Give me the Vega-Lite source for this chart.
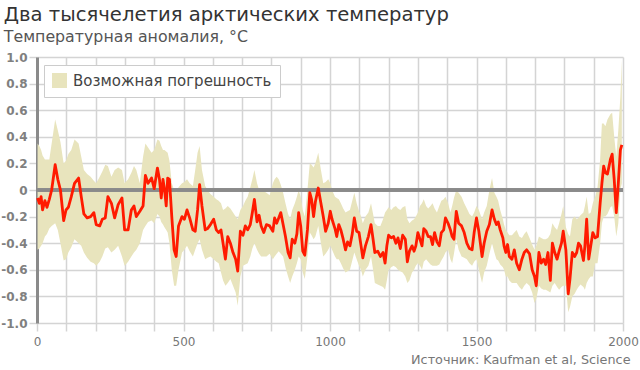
{
  "$schema": "https://vega.github.io/schema/vega-lite/v6.json",
  "autosize": {"type": "none"},
  "width": 586,
  "height": 266,
  "padding": {"left": 37, "top": 57, "right": 17, "bottom": 47},
  "background": "white",
  "title": {
    "text": "Два тысячелетия арктических температур",
    "subtitle": "Температурная аномалия, °C",
    "anchor": "start",
    "frame": "bounds",
    "dx": 3,
    "offset": 5,
    "font": "DejaVu Sans",
    "fontSize": 19.6,
    "fontWeight": "normal",
    "color": "#333333",
    "subtitleFont": "DejaVu Sans",
    "subtitleFontSize": 15.8,
    "subtitleColor": "#555555",
    "subtitlePadding": 5
  },
  "config": {
    "view": {"stroke": null},
    "font": "DejaVu Sans",
    "axisY": {"labelOverlap": false, "labelBound": false, "labelFontWeight": "bold"},
    "axisX": {"labelOverlap": false}
  },
  "data": {
    "values": [
      {"yr": 2, "t": -0.06, "hi": 0.35, "lo": -0.45},
      {"yr": 8, "t": -0.10, "hi": 0.33, "lo": -0.44},
      {"yr": 14, "t": -0.05, "hi": 0.30, "lo": -0.42},
      {"yr": 19, "t": -0.15, "hi": 0.26, "lo": -0.40},
      {"yr": 27, "t": -0.08, "hi": 0.23, "lo": -0.35},
      {"yr": 34, "t": -0.13, "hi": 0.23, "lo": -0.33},
      {"yr": 42, "t": -0.07, "hi": 0.23, "lo": -0.29},
      {"yr": 50, "t": 0.0, "hi": 0.35, "lo": -0.27},
      {"yr": 62, "t": 0.19, "hi": 0.53, "lo": -0.25},
      {"yr": 71, "t": 0.08, "hi": 0.45, "lo": -0.30},
      {"yr": 80, "t": 0.0, "hi": 0.36, "lo": -0.40},
      {"yr": 91, "t": -0.23, "hi": 0.20, "lo": -0.53},
      {"yr": 99, "t": -0.15, "hi": 0.22, "lo": -0.52},
      {"yr": 107, "t": -0.13, "hi": 0.27, "lo": -0.47},
      {"yr": 117, "t": -0.05, "hi": 0.30, "lo": -0.43},
      {"yr": 128, "t": 0.05, "hi": 0.38, "lo": -0.37},
      {"yr": 142, "t": 0.09, "hi": 0.35, "lo": -0.40},
      {"yr": 151, "t": -0.05, "hi": 0.25, "lo": -0.42},
      {"yr": 160, "t": -0.18, "hi": 0.15, "lo": -0.47},
      {"yr": 171, "t": -0.21, "hi": 0.12, "lo": -0.51},
      {"yr": 183, "t": -0.20, "hi": 0.10, "lo": -0.54},
      {"yr": 194, "t": -0.17, "hi": 0.07, "lo": -0.55},
      {"yr": 202, "t": -0.26, "hi": 0.05, "lo": -0.57},
      {"yr": 214, "t": -0.27, "hi": 0.10, "lo": -0.54},
      {"yr": 223, "t": -0.22, "hi": 0.14, "lo": -0.50},
      {"yr": 233, "t": -0.21, "hi": 0.19, "lo": -0.44},
      {"yr": 242, "t": -0.05, "hi": 0.18, "lo": -0.43},
      {"yr": 254, "t": -0.10, "hi": 0.10, "lo": -0.47},
      {"yr": 265, "t": -0.21, "hi": 0.15, "lo": -0.45},
      {"yr": 277, "t": -0.11, "hi": 0.17, "lo": -0.42},
      {"yr": 290, "t": -0.06, "hi": 0.15, "lo": -0.50},
      {"yr": 299, "t": -0.30, "hi": 0.05, "lo": -0.57},
      {"yr": 311, "t": -0.30, "hi": 0.08, "lo": -0.54},
      {"yr": 322, "t": -0.15, "hi": 0.13, "lo": -0.50},
      {"yr": 331, "t": -0.12, "hi": 0.18, "lo": -0.47},
      {"yr": 339, "t": -0.20, "hi": 0.15, "lo": -0.45},
      {"yr": 351, "t": -0.16, "hi": 0.05, "lo": -0.40},
      {"yr": 362, "t": -0.12, "hi": 0.25, "lo": -0.30},
      {"yr": 370, "t": 0.11, "hi": 0.35, "lo": -0.27},
      {"yr": 379, "t": 0.05, "hi": 0.32, "lo": -0.24},
      {"yr": 391, "t": 0.09, "hi": 0.28, "lo": -0.23},
      {"yr": 400, "t": 0.01, "hi": 0.30, "lo": -0.25},
      {"yr": 411, "t": 0.165, "hi": 0.38, "lo": -0.18},
      {"yr": 418, "t": 0.08, "hi": 0.37, "lo": -0.20},
      {"yr": 424, "t": -0.06, "hi": 0.33, "lo": -0.24},
      {"yr": 430, "t": 0.08, "hi": 0.30, "lo": -0.26},
      {"yr": 435, "t": 0.01, "hi": 0.30, "lo": -0.28},
      {"yr": 441, "t": -0.12, "hi": 0.29, "lo": -0.30},
      {"yr": 446, "t": 0.09, "hi": 0.28, "lo": -0.32},
      {"yr": 452, "t": 0.08, "hi": 0.22, "lo": -0.40},
      {"yr": 460, "t": -0.20, "hi": 0.05, "lo": -0.60},
      {"yr": 468, "t": -0.45, "hi": 0.0, "lo": -0.72},
      {"yr": 475, "t": -0.50, "hi": -0.02, "lo": -0.72},
      {"yr": 483, "t": -0.27, "hi": 0.02, "lo": -0.60},
      {"yr": 495, "t": -0.20, "hi": 0.05, "lo": -0.47},
      {"yr": 503, "t": -0.22, "hi": 0.06, "lo": -0.45},
      {"yr": 512, "t": -0.15, "hi": 0.08, "lo": -0.42},
      {"yr": 521, "t": -0.21, "hi": 0.05, "lo": -0.46},
      {"yr": 532, "t": -0.30, "hi": 0.03, "lo": -0.50},
      {"yr": 540, "t": -0.31, "hi": 0.15, "lo": -0.45},
      {"yr": 548, "t": -0.15, "hi": 0.28, "lo": -0.40},
      {"yr": 555, "t": 0.04, "hi": 0.33, "lo": -0.37},
      {"yr": 563, "t": -0.12, "hi": 0.15, "lo": -0.45},
      {"yr": 574, "t": -0.30, "hi": 0.03, "lo": -0.52},
      {"yr": 582, "t": -0.29, "hi": 0.0, "lo": -0.51},
      {"yr": 592, "t": -0.26, "hi": -0.03, "lo": -0.50},
      {"yr": 603, "t": -0.22, "hi": -0.05, "lo": -0.52},
      {"yr": 612, "t": -0.30, "hi": -0.07, "lo": -0.54},
      {"yr": 620, "t": -0.32, "hi": -0.08, "lo": -0.55},
      {"yr": 628, "t": -0.30, "hi": -0.10, "lo": -0.62},
      {"yr": 635, "t": -0.40, "hi": -0.15, "lo": -0.68},
      {"yr": 643, "t": -0.52, "hi": -0.14, "lo": -0.72},
      {"yr": 651, "t": -0.35, "hi": -0.12, "lo": -0.70},
      {"yr": 660, "t": -0.40, "hi": -0.14, "lo": -0.67},
      {"yr": 669, "t": -0.47, "hi": -0.17, "lo": -0.72},
      {"yr": 678, "t": -0.52, "hi": -0.20, "lo": -0.77},
      {"yr": 685, "t": -0.61, "hi": -0.22, "lo": -0.87},
      {"yr": 694, "t": -0.31, "hi": -0.15, "lo": -0.65},
      {"yr": 703, "t": -0.34, "hi": -0.12, "lo": -0.57},
      {"yr": 711, "t": -0.27, "hi": -0.08, "lo": -0.56},
      {"yr": 719, "t": -0.30, "hi": -0.05, "lo": -0.55},
      {"yr": 728, "t": -0.26, "hi": 0.02, "lo": -0.50},
      {"yr": 735, "t": -0.17, "hi": 0.08, "lo": -0.44},
      {"yr": 742, "t": -0.07, "hi": 0.15, "lo": -0.40},
      {"yr": 751, "t": -0.24, "hi": 0.05, "lo": -0.45},
      {"yr": 758, "t": -0.19, "hi": 0.0, "lo": -0.48},
      {"yr": 765, "t": -0.27, "hi": 0.0, "lo": -0.50},
      {"yr": 774, "t": -0.32, "hi": -0.01, "lo": -0.50},
      {"yr": 783, "t": -0.26, "hi": -0.02, "lo": -0.50},
      {"yr": 794, "t": -0.27, "hi": -0.04, "lo": -0.48},
      {"yr": 805, "t": -0.31, "hi": 0.05, "lo": -0.52},
      {"yr": 811, "t": -0.21, "hi": 0.08, "lo": -0.50},
      {"yr": 818, "t": -0.25, "hi": 0.10, "lo": -0.48},
      {"yr": 825, "t": -0.21, "hi": 0.08, "lo": -0.46},
      {"yr": 832, "t": -0.17, "hi": 0.04, "lo": -0.48},
      {"yr": 840, "t": -0.26, "hi": -0.02, "lo": -0.50},
      {"yr": 848, "t": -0.35, "hi": -0.10, "lo": -0.58},
      {"yr": 857, "t": -0.47, "hi": -0.18, "lo": -0.65},
      {"yr": 864, "t": -0.51, "hi": -0.22, "lo": -0.70},
      {"yr": 871, "t": -0.37, "hi": -0.15, "lo": -0.65},
      {"yr": 880, "t": -0.40, "hi": -0.10, "lo": -0.60},
      {"yr": 887, "t": -0.33, "hi": -0.05, "lo": -0.55},
      {"yr": 893, "t": -0.17, "hi": 0.0, "lo": -0.50},
      {"yr": 900, "t": -0.27, "hi": -0.05, "lo": -0.52},
      {"yr": 907, "t": -0.46, "hi": -0.15, "lo": -0.62},
      {"yr": 914, "t": -0.49, "hi": -0.20, "lo": -0.67},
      {"yr": 923, "t": -0.30, "hi": 0.0, "lo": -0.50},
      {"yr": 931, "t": -0.02, "hi": 0.20, "lo": -0.32},
      {"yr": 937, "t": -0.07, "hi": 0.19, "lo": -0.34},
      {"yr": 944, "t": -0.20, "hi": 0.17, "lo": -0.37},
      {"yr": 950, "t": -0.09, "hi": 0.20, "lo": -0.35},
      {"yr": 960, "t": 0.015, "hi": 0.28, "lo": -0.27},
      {"yr": 969, "t": -0.10, "hi": 0.15, "lo": -0.40},
      {"yr": 977, "t": -0.20, "hi": 0.05, "lo": -0.50},
      {"yr": 985, "t": -0.31, "hi": 0.06, "lo": -0.48},
      {"yr": 994, "t": -0.25, "hi": 0.08, "lo": -0.45},
      {"yr": 1001, "t": -0.16, "hi": 0.05, "lo": -0.42},
      {"yr": 1007, "t": -0.22, "hi": 0.0, "lo": -0.45},
      {"yr": 1017, "t": -0.29, "hi": -0.05, "lo": -0.50},
      {"yr": 1023, "t": -0.35, "hi": -0.06, "lo": -0.52},
      {"yr": 1030, "t": -0.26, "hi": -0.07, "lo": -0.52},
      {"yr": 1037, "t": -0.30, "hi": -0.10, "lo": -0.55},
      {"yr": 1045, "t": -0.37, "hi": -0.14, "lo": -0.59},
      {"yr": 1053, "t": -0.45, "hi": -0.17, "lo": -0.62},
      {"yr": 1060, "t": -0.39, "hi": -0.16, "lo": -0.61},
      {"yr": 1068, "t": -0.42, "hi": -0.15, "lo": -0.60},
      {"yr": 1076, "t": -0.33, "hi": -0.08, "lo": -0.53},
      {"yr": 1083, "t": -0.21, "hi": -0.02, "lo": -0.47},
      {"yr": 1091, "t": -0.31, "hi": -0.10, "lo": -0.52},
      {"yr": 1099, "t": -0.32, "hi": -0.16, "lo": -0.57},
      {"yr": 1106, "t": -0.42, "hi": -0.20, "lo": -0.60},
      {"yr": 1112, "t": -0.51, "hi": -0.25, "lo": -0.65},
      {"yr": 1121, "t": -0.42, "hi": -0.20, "lo": -0.60},
      {"yr": 1131, "t": -0.35, "hi": -0.17, "lo": -0.57},
      {"yr": 1140, "t": -0.26, "hi": -0.10, "lo": -0.50},
      {"yr": 1147, "t": -0.37, "hi": -0.18, "lo": -0.60},
      {"yr": 1153, "t": -0.47, "hi": -0.25, "lo": -0.70},
      {"yr": 1163, "t": -0.46, "hi": -0.27, "lo": -0.71},
      {"yr": 1172, "t": -0.50, "hi": -0.27, "lo": -0.72},
      {"yr": 1181, "t": -0.47, "hi": -0.22, "lo": -0.73},
      {"yr": 1188, "t": -0.55, "hi": -0.17, "lo": -0.75},
      {"yr": 1194, "t": -0.42, "hi": -0.15, "lo": -0.68},
      {"yr": 1200, "t": -0.34, "hi": -0.13, "lo": -0.60},
      {"yr": 1209, "t": -0.36, "hi": -0.15, "lo": -0.58},
      {"yr": 1217, "t": -0.35, "hi": -0.13, "lo": -0.57},
      {"yr": 1225, "t": -0.40, "hi": -0.12, "lo": -0.58},
      {"yr": 1232, "t": -0.36, "hi": -0.14, "lo": -0.60},
      {"yr": 1240, "t": -0.44, "hi": -0.15, "lo": -0.61},
      {"yr": 1248, "t": -0.34, "hi": -0.13, "lo": -0.62},
      {"yr": 1257, "t": -0.37, "hi": -0.12, "lo": -0.65},
      {"yr": 1264, "t": -0.54, "hi": -0.22, "lo": -0.70},
      {"yr": 1271, "t": -0.46, "hi": -0.25, "lo": -0.68},
      {"yr": 1280, "t": -0.42, "hi": -0.23, "lo": -0.62},
      {"yr": 1287, "t": -0.46, "hi": -0.22, "lo": -0.60},
      {"yr": 1293, "t": -0.42, "hi": -0.20, "lo": -0.57},
      {"yr": 1300, "t": -0.32, "hi": -0.17, "lo": -0.55},
      {"yr": 1307, "t": -0.37, "hi": -0.12, "lo": -0.57},
      {"yr": 1314, "t": -0.42, "hi": -0.10, "lo": -0.60},
      {"yr": 1320, "t": -0.29, "hi": -0.07, "lo": -0.54},
      {"yr": 1328, "t": -0.31, "hi": -0.12, "lo": -0.52},
      {"yr": 1335, "t": -0.35, "hi": -0.14, "lo": -0.54},
      {"yr": 1343, "t": -0.35, "hi": -0.12, "lo": -0.56},
      {"yr": 1350, "t": -0.41, "hi": -0.10, "lo": -0.57},
      {"yr": 1357, "t": -0.32, "hi": -0.14, "lo": -0.57},
      {"yr": 1365, "t": -0.39, "hi": -0.17, "lo": -0.57},
      {"yr": 1373, "t": -0.42, "hi": -0.12, "lo": -0.56},
      {"yr": 1380, "t": -0.32, "hi": -0.08, "lo": -0.53},
      {"yr": 1388, "t": -0.30, "hi": -0.07, "lo": -0.50},
      {"yr": 1394, "t": -0.21, "hi": -0.05, "lo": -0.47},
      {"yr": 1403, "t": -0.25, "hi": -0.10, "lo": -0.45},
      {"yr": 1411, "t": -0.30, "hi": -0.17, "lo": -0.52},
      {"yr": 1417, "t": -0.35, "hi": -0.12, "lo": -0.55},
      {"yr": 1423, "t": -0.37, "hi": -0.06, "lo": -0.48},
      {"yr": 1431, "t": -0.16, "hi": 0.0, "lo": -0.37},
      {"yr": 1439, "t": -0.25, "hi": -0.02, "lo": -0.45},
      {"yr": 1449, "t": -0.27, "hi": -0.05, "lo": -0.50},
      {"yr": 1458, "t": -0.32, "hi": -0.10, "lo": -0.51},
      {"yr": 1467, "t": -0.40, "hi": -0.14, "lo": -0.52},
      {"yr": 1476, "t": -0.44, "hi": -0.18, "lo": -0.55},
      {"yr": 1485, "t": -0.45, "hi": -0.20, "lo": -0.57},
      {"yr": 1492, "t": -0.32, "hi": -0.17, "lo": -0.54},
      {"yr": 1500, "t": -0.21, "hi": -0.12, "lo": -0.52},
      {"yr": 1508, "t": -0.31, "hi": -0.15, "lo": -0.60},
      {"yr": 1519, "t": -0.50, "hi": -0.22, "lo": -0.70},
      {"yr": 1526, "t": -0.40, "hi": -0.17, "lo": -0.62},
      {"yr": 1535, "t": -0.31, "hi": -0.12, "lo": -0.57},
      {"yr": 1544, "t": -0.26, "hi": 0.0, "lo": -0.48},
      {"yr": 1553, "t": -0.15, "hi": 0.09, "lo": -0.40},
      {"yr": 1561, "t": -0.22, "hi": -0.02, "lo": -0.47},
      {"yr": 1568, "t": -0.26, "hi": -0.05, "lo": -0.52},
      {"yr": 1574, "t": -0.24, "hi": -0.08, "lo": -0.53},
      {"yr": 1581, "t": -0.30, "hi": -0.15, "lo": -0.56},
      {"yr": 1590, "t": -0.36, "hi": -0.22, "lo": -0.58},
      {"yr": 1594, "t": -0.42, "hi": -0.26, "lo": -0.60},
      {"yr": 1600, "t": -0.47, "hi": -0.30, "lo": -0.65},
      {"yr": 1606, "t": -0.41, "hi": -0.32, "lo": -0.65},
      {"yr": 1612, "t": -0.50, "hi": -0.34, "lo": -0.68},
      {"yr": 1621, "t": -0.52, "hi": -0.34, "lo": -0.70},
      {"yr": 1629, "t": -0.45, "hi": -0.32, "lo": -0.70},
      {"yr": 1637, "t": -0.55, "hi": -0.30, "lo": -0.70},
      {"yr": 1646, "t": -0.60, "hi": -0.35, "lo": -0.73},
      {"yr": 1655, "t": -0.52, "hi": -0.36, "lo": -0.75},
      {"yr": 1663, "t": -0.47, "hi": -0.33, "lo": -0.72},
      {"yr": 1671, "t": -0.45, "hi": -0.31, "lo": -0.70},
      {"yr": 1681, "t": -0.48, "hi": -0.36, "lo": -0.72},
      {"yr": 1690, "t": -0.60, "hi": -0.41, "lo": -0.77},
      {"yr": 1698, "t": -0.65, "hi": -0.45, "lo": -0.85},
      {"yr": 1704, "t": -0.72, "hi": -0.42, "lo": -0.82},
      {"yr": 1713, "t": -0.47, "hi": -0.35, "lo": -0.72},
      {"yr": 1721, "t": -0.55, "hi": -0.36, "lo": -0.74},
      {"yr": 1729, "t": -0.52, "hi": -0.37, "lo": -0.75},
      {"yr": 1736, "t": -0.56, "hi": -0.37, "lo": -0.75},
      {"yr": 1744, "t": -0.47, "hi": -0.36, "lo": -0.76},
      {"yr": 1752, "t": -0.68, "hi": -0.33, "lo": -0.77},
      {"yr": 1759, "t": -0.40, "hi": -0.25, "lo": -0.72},
      {"yr": 1767, "t": -0.47, "hi": -0.28, "lo": -0.70},
      {"yr": 1775, "t": -0.52, "hi": -0.30, "lo": -0.73},
      {"yr": 1782, "t": -0.46, "hi": -0.25, "lo": -0.75},
      {"yr": 1790, "t": -0.40, "hi": -0.18, "lo": -0.73},
      {"yr": 1796, "t": -0.31, "hi": -0.12, "lo": -0.72},
      {"yr": 1805, "t": -0.45, "hi": -0.28, "lo": -0.72},
      {"yr": 1813, "t": -0.78, "hi": -0.33, "lo": -0.92},
      {"yr": 1819, "t": -0.67, "hi": -0.35, "lo": -0.88},
      {"yr": 1827, "t": -0.47, "hi": -0.22, "lo": -0.80},
      {"yr": 1835, "t": -0.50, "hi": -0.20, "lo": -0.78},
      {"yr": 1842, "t": -0.47, "hi": -0.22, "lo": -0.75},
      {"yr": 1848, "t": -0.40, "hi": -0.21, "lo": -0.73},
      {"yr": 1855, "t": -0.42, "hi": -0.19, "lo": -0.71},
      {"yr": 1865, "t": -0.53, "hi": -0.17, "lo": -0.73},
      {"yr": 1870, "t": -0.42, "hi": -0.12, "lo": -0.75},
      {"yr": 1876, "t": -0.22, "hi": -0.05, "lo": -0.70},
      {"yr": 1883, "t": -0.52, "hi": -0.18, "lo": -0.67},
      {"yr": 1890, "t": -0.42, "hi": -0.17, "lo": -0.65},
      {"yr": 1897, "t": -0.32, "hi": -0.10, "lo": -0.65},
      {"yr": 1905, "t": -0.36, "hi": -0.05, "lo": -0.55},
      {"yr": 1913, "t": -0.35, "hi": 0.02, "lo": -0.55},
      {"yr": 1922, "t": -0.10, "hi": 0.23, "lo": -0.40},
      {"yr": 1928, "t": 0.05, "hi": 0.50, "lo": -0.25},
      {"yr": 1934, "t": 0.18, "hi": 0.50, "lo": -0.20},
      {"yr": 1940, "t": 0.13, "hi": 0.48, "lo": -0.20},
      {"yr": 1947, "t": 0.12, "hi": 0.53, "lo": -0.18},
      {"yr": 1957, "t": 0.23, "hi": 0.57, "lo": -0.13},
      {"yr": 1963, "t": 0.27, "hi": 0.58, "lo": -0.12},
      {"yr": 1970, "t": 0.08, "hi": 0.40, "lo": -0.20},
      {"yr": 1977, "t": -0.17, "hi": 0.25, "lo": -0.35},
      {"yr": 1984, "t": 0.05, "hi": 0.45, "lo": -0.25},
      {"yr": 1991, "t": 0.30, "hi": 0.70, "lo": 0.0},
      {"yr": 1996, "t": 0.34, "hi": 0.98, "lo": 0.05}
    ]
  },
  "encoding": {
    "x": {
      "field": "yr",
      "type": "quantitative",
      "scale": {"domain": [0, 2000], "nice": false, "zero": false},
      "axis": {
        "values": [0,100,200,300,400,500,600,700,800,900,1000,1100,1200,1300,1400,1500,1600,1700,1800,1900,2000],
        "labelExpr": "datum.value % 500 === 0 ? datum.label : ''",
        "format": "d",
        "domain": false,
        "grid": true,
        "gridColor": "#d4d4d4",
        "gridWidth": 1.5,
        "ticks": true,
        "tickColor": "#d4d4d4",
        "tickWidth": 1.5,
        "tickSize": 8,
        "labelFont": "DejaVu Sans",
        "labelFontSize": 12,
        "labelColor": "#777777",
        "labelPadding": 5,
        "labelFlush": false,
        "labelOverlap": false,
        "title": "Источник: Kaufman et al, Science",
        "titleFont": "DejaVu Sans",
        "titleFontSize": 12.8,
        "titleFontWeight": "normal",
        "titleColor": "#777777",
        "titleAnchor": "end",
        "titleAlign": "right",
        "titleBaseline": "alphabetic",
        "titleX": 593,
        "titleY": 40
      }
    },
    "y": {
      "type": "quantitative",
      "scale": {"domain": [-1, 1], "nice": false},
      "axis": {
        "values": [-1, -0.8, -0.6, -0.4, -0.2, 0, 0.2, 0.4, 0.6, 0.8, 1],
        "labelExpr": "datum.value == 0 ? '0' : (datum.value < 0 ? '-' + format(-datum.value, '.1f') : format(datum.value, '.1f'))",
        "domain": true,
        "domainColor": "#8a8a8a",
        "domainWidth": 3,
        "grid": true,
        "gridColor": "#d4d4d4",
        "gridWidth": 1.5,
        "ticks": true,
        "tickColor": "#d4d4d4",
        "tickWidth": 1.5,
        "tickSize": 8,
        "labelFont": "DejaVu Sans",
        "labelFontSize": 12,
        "labelFontWeight": "bold",
        "labelColor": "#808080",
        "labelPadding": 2,
        "labelOverlap": false,
        "title": null
      }
    }
  },
  "layer": [
    {
      "mark": {"type": "area", "opacity": 1, "interpolate": "linear"},
      "encoding": {
        "y": {"field": "lo", "type": "quantitative"},
        "y2": {"field": "hi"},
        "color": {
          "datum": "Возможная погрешность",
          "type": "nominal",
          "scale": {"range": ["#e8e4bd"]},
          "legend": {
            "title": null,
            "orient": "none",
            "legendX": 7,
            "legendY": 8,
            "symbolType": "square",
            "symbolSize": 225,
            "symbolStrokeWidth": 0,
            "symbolOpacity": 1,
            "labelFont": "DejaVu Sans",
            "labelFontSize": 15,
            "labelColor": "#444444",
            "labelOffset": 6,
            "labelLimit": 400,
            "fillColor": "white",
            "strokeColor": "#cccccc",
            "padding": 8,
            "offset": 0
          }
        }
      }
    },
    {
      "mark": {"type": "rule", "color": "#8a8a8a", "strokeWidth": 2.5},
      "encoding": {"y": {"datum": 0, "type": "quantitative"}, "x": {"value": 0}, "x2": {"value": 586}}
    },
    {
      "mark": {"type": "line", "color": "#ff1a00", "strokeWidth": 2.8, "strokeJoin": "round"},
      "encoding": {"y": {"field": "t", "type": "quantitative"}}
    }
  ]
}
